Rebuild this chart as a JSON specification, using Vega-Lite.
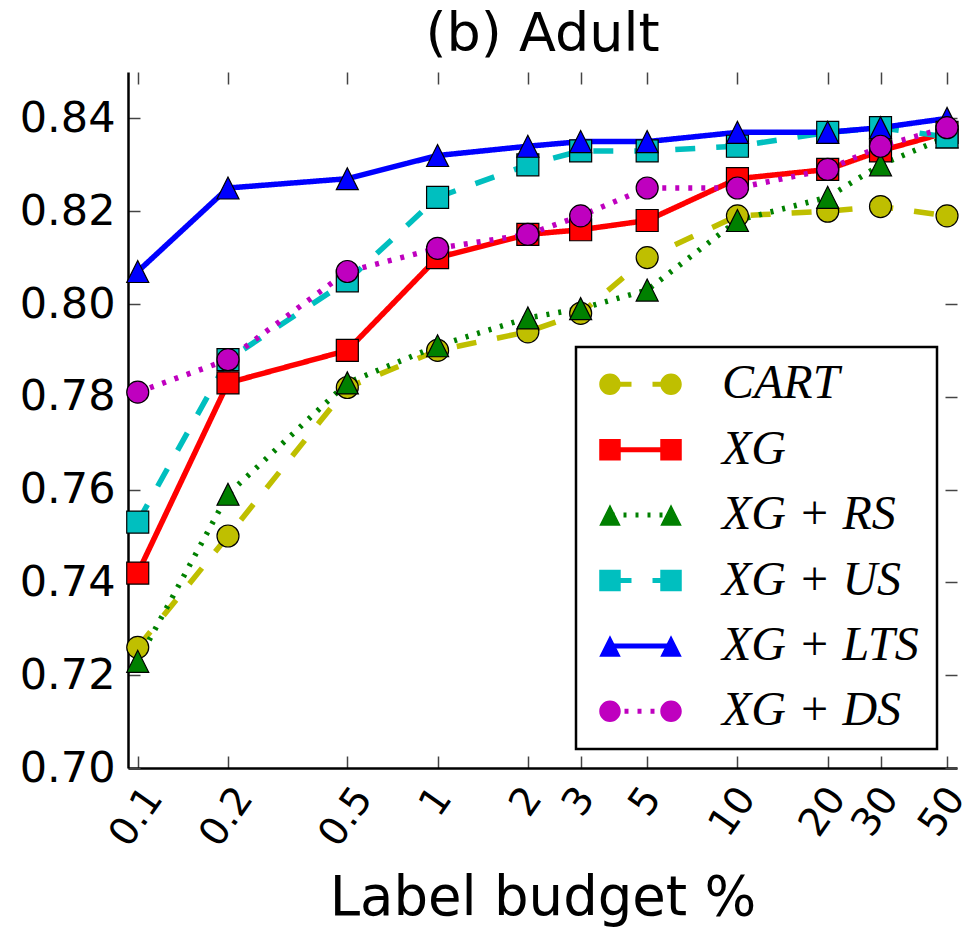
{
  "$schema": "https://vega.github.io/schema/vega-lite/v6.json",
  "width": 829,
  "height": 696,
  "autosize": {"type": "none"},
  "padding": {"left": 128, "top": 72, "right": 15, "bottom": 161},
  "background": "white",
  "title": {"text": "(b) Adult", "font": "DejaVu Sans", "fontSize": 54, "fontWeight": "normal", "color": "black", "anchor": "middle", "baseline": "alphabetic", "offset": 19, "dy": 53},
  "config": {"view": {"stroke": null}, "axis": {"grid": false}, "legend": {"strokeWidth": 2.5}},
  "data": {"values": [
    {"budget": 0.1, "acc": 0.726, "series": "CART"},
    {"budget": 0.2, "acc": 0.750, "series": "CART"},
    {"budget": 0.5, "acc": 0.782, "series": "CART"},
    {"budget": 1, "acc": 0.790, "series": "CART"},
    {"budget": 2, "acc": 0.794, "series": "CART"},
    {"budget": 3, "acc": 0.798, "series": "CART"},
    {"budget": 5, "acc": 0.810, "series": "CART"},
    {"budget": 10, "acc": 0.819, "series": "CART"},
    {"budget": 20, "acc": 0.820, "series": "CART"},
    {"budget": 30, "acc": 0.821, "series": "CART"},
    {"budget": 50, "acc": 0.819, "series": "CART"},
    {"budget": 0.1, "acc": 0.742, "series": "XG"},
    {"budget": 0.2, "acc": 0.783, "series": "XG"},
    {"budget": 0.5, "acc": 0.790, "series": "XG"},
    {"budget": 1, "acc": 0.810, "series": "XG"},
    {"budget": 2, "acc": 0.815, "series": "XG"},
    {"budget": 3, "acc": 0.816, "series": "XG"},
    {"budget": 5, "acc": 0.818, "series": "XG"},
    {"budget": 10, "acc": 0.827, "series": "XG"},
    {"budget": 20, "acc": 0.829, "series": "XG"},
    {"budget": 30, "acc": 0.833, "series": "XG"},
    {"budget": 50, "acc": 0.837, "series": "XG"},
    {"budget": 0.1, "acc": 0.723, "series": "XG+RS"},
    {"budget": 0.2, "acc": 0.759, "series": "XG+RS"},
    {"budget": 0.5, "acc": 0.783, "series": "XG+RS"},
    {"budget": 1, "acc": 0.791, "series": "XG+RS"},
    {"budget": 2, "acc": 0.797, "series": "XG+RS"},
    {"budget": 3, "acc": 0.799, "series": "XG+RS"},
    {"budget": 5, "acc": 0.803, "series": "XG+RS"},
    {"budget": 10, "acc": 0.818, "series": "XG+RS"},
    {"budget": 20, "acc": 0.823, "series": "XG+RS"},
    {"budget": 30, "acc": 0.830, "series": "XG+RS"},
    {"budget": 50, "acc": 0.836, "series": "XG+RS"},
    {"budget": 0.1, "acc": 0.753, "series": "XG+US"},
    {"budget": 0.2, "acc": 0.788, "series": "XG+US"},
    {"budget": 0.5, "acc": 0.805, "series": "XG+US"},
    {"budget": 1, "acc": 0.823, "series": "XG+US"},
    {"budget": 2, "acc": 0.830, "series": "XG+US"},
    {"budget": 3, "acc": 0.833, "series": "XG+US"},
    {"budget": 5, "acc": 0.833, "series": "XG+US"},
    {"budget": 10, "acc": 0.834, "series": "XG+US"},
    {"budget": 20, "acc": 0.837, "series": "XG+US"},
    {"budget": 30, "acc": 0.838, "series": "XG+US"},
    {"budget": 50, "acc": 0.836, "series": "XG+US"},
    {"budget": 0.1, "acc": 0.807, "series": "XG+LTS"},
    {"budget": 0.2, "acc": 0.825, "series": "XG+LTS"},
    {"budget": 0.5, "acc": 0.827, "series": "XG+LTS"},
    {"budget": 1, "acc": 0.832, "series": "XG+LTS"},
    {"budget": 2, "acc": 0.834, "series": "XG+LTS"},
    {"budget": 3, "acc": 0.835, "series": "XG+LTS"},
    {"budget": 5, "acc": 0.835, "series": "XG+LTS"},
    {"budget": 10, "acc": 0.837, "series": "XG+LTS"},
    {"budget": 20, "acc": 0.837, "series": "XG+LTS"},
    {"budget": 30, "acc": 0.838, "series": "XG+LTS"},
    {"budget": 50, "acc": 0.840, "series": "XG+LTS"},
    {"budget": 0.1, "acc": 0.781, "series": "XG+DS"},
    {"budget": 0.2, "acc": 0.788, "series": "XG+DS"},
    {"budget": 0.5, "acc": 0.807, "series": "XG+DS"},
    {"budget": 1, "acc": 0.812, "series": "XG+DS"},
    {"budget": 2, "acc": 0.815, "series": "XG+DS"},
    {"budget": 3, "acc": 0.819, "series": "XG+DS"},
    {"budget": 5, "acc": 0.825, "series": "XG+DS"},
    {"budget": 10, "acc": 0.825, "series": "XG+DS"},
    {"budget": 20, "acc": 0.829, "series": "XG+DS"},
    {"budget": 30, "acc": 0.834, "series": "XG+DS"},
    {"budget": 50, "acc": 0.838, "series": "XG+DS"}
  ]},
  "layer": [
    {
      "mark": {"type": "line", "strokeWidth": 5.5},
      "encoding": {
        "x": {"field": "budget", "type": "quantitative",
          "scale": {"type": "log", "domain": [0.0928, 53.98], "nice": false},
          "axis": {"orient": "bottom", "values": [0.1, 0.2, 0.5, 1, 2, 3, 5, 10, 20, 30, 50], "format": "~g",
            "labelFont": "DejaVu Sans", "labelFontSize": 39, "labelColor": "black", "labelAngle": -55,
            "labelAlign": "right", "labelBaseline": "middle", "labelPadding": 35,
            "labelOffset": {"condition": [{"test": "datum.value < 1", "value": 16}, {"test": "datum.value >= 10", "value": 9}], "value": 5},
            "labelFlush": false, "labelOverlap": false, "labelBound": false,
            "tickSize": -12, "tickColor": "#444", "tickWidth": 1.5,
            "domainColor": "black", "domainWidth": 2.5,
            "title": "Label budget %", "titleFont": "DejaVu Sans", "titleFontSize": 54.5, "titleFontWeight": "normal",
            "titleColor": "black", "titleBaseline": "alphabetic", "titleY": 146, "grid": false}},
        "y": {"field": "acc", "type": "quantitative",
          "scale": {"domain": [0.7, 0.85], "nice": false, "zero": false},
          "axis": {"orient": "left", "values": [0.7, 0.72, 0.74, 0.76, 0.78, 0.8, 0.82, 0.84], "format": ".2f",
            "labelFont": "DejaVu Sans", "labelFontSize": 43, "labelColor": "black", "labelPadding": 25,
            "labelFlush": false, "labelOverlap": false,
            "tickSize": -12, "tickColor": "#444", "tickWidth": 1.5,
            "domainColor": "black", "domainWidth": 2.5, "title": null, "grid": false}},
        "stroke": {"field": "series", "type": "nominal",
          "scale": {"domain": ["CART", "XG", "XG+RS", "XG+US", "XG+LTS", "XG+DS"],
            "range": ["#bfbf00", "#ff0000", "#008000", "#00bfbf", "#0000ff", "#bf00bf"]},
          "legend": {"title": null, "orient": "none", "legendX": 448, "legendY": 275, "symbolType": "stroke",
            "symbolSize": 3721, "symbolStrokeWidth": 5, "symbolOffset": 25, "padding": 8, "clipHeight": 58.6,
            "rowPadding": 6.4, "labelExpr": "''", "labelFontSize": 10, "labelOffset": 38, "strokeColor": null}},
        "strokeDash": {"field": "series", "type": "nominal",
          "scale": {"domain": ["CART", "XG", "XG+RS", "XG+US", "XG+LTS", "XG+DS"],
            "range": [[20, 21], [1, 0], [3, 9], [20, 21], [1, 0], [4, 9]]},
          "legend": {"title": null, "orient": "none", "legendX": 448, "legendY": 275, "symbolType": "stroke",
            "symbolSize": 3721, "symbolStrokeWidth": 5, "symbolOffset": 25, "padding": 8, "clipHeight": 58.6,
            "rowPadding": 6.4, "labelExpr": "''", "labelFontSize": 10, "labelOffset": 38, "strokeColor": null}}
      }
    },
    {
      "mark": {"type": "point", "filled": true, "opacity": 1, "stroke": "black", "strokeWidth": 1.2, "size": 484},
      "encoding": {
        "x": {"field": "budget", "type": "quantitative", "scale": {"type": "log", "domain": [0.0928, 53.98], "nice": false}, "axis": null},
        "y": {"field": "acc", "type": "quantitative", "scale": {"domain": [0.7, 0.85], "nice": false, "zero": false}, "axis": null},
        "fill": {"field": "series", "type": "nominal",
          "scale": {"domain": ["CART", "XG", "XG+RS", "XG+US", "XG+LTS", "XG+DS"],
            "range": ["#bfbf00", "#ff0000", "#008000", "#00bfbf", "#0000ff", "#bf00bf"]}, "legend": null},
        "shape": {"field": "series", "type": "nominal",
          "scale": {"domain": ["CART", "XG", "XG+RS", "XG+US", "XG+LTS", "XG+DS"],
            "range": ["circle", "square", "M0,-1L-1,1L1,1Z", "square", "M0,-1L-1,1L1,1Z", "circle"]}, "legend": null}
      }
    },
    {
      "transform": [{"filter": "false"}],
      "mark": {"type": "point", "filled": true, "opacity": 1, "stroke": "black", "strokeWidth": 1.2},
      "encoding": {
        "x": {"field": "budget", "type": "quantitative", "scale": {"type": "log", "domain": [0.0928, 53.98], "nice": false}, "axis": null},
        "y": {"field": "acc", "type": "quantitative", "scale": {"domain": [0.7, 0.85], "nice": false, "zero": false}, "axis": null},
        "fill": {"field": "series", "type": "nominal",
          "scale": {"domain": ["CART", "XG", "XG+RS", "XG+US", "XG+LTS", "XG+DS"],
            "range": ["#bfbf00", "#ff0000", "#008000", "#00bfbf", "#0000ff", "#bf00bf"]},
          "legend": {"title": "\u00a0", "titleOrient": "right", "titlePadding": 10, "titleFontSize": 2, "orient": "none", "legendX": 448, "legendY": 275, "symbolSize": 7225,
            "symbolStrokeColor": "black", "symbolStrokeWidth": 1.2, "symbolOffset": 13, "padding": 8, "clipHeight": 58.6,
            "rowPadding": 6.4, "labelFont": "Liberation Serif", "labelFontStyle": "italic", "labelFontSize": 48,
            "labelColor": "black", "labelOffset": 38, "labelLimit": 400, "labelExpr": "replace(datum.label, '+', ' + ')",
            "strokeColor": "black"}},
        "shape": {"field": "series", "type": "nominal",
          "scale": {"domain": ["CART", "XG", "XG+RS", "XG+US", "XG+LTS", "XG+DS"],
            "range": [
              "M-0.971,0A0.253,0.253,0,1,0,-0.465,0A0.253,0.253,0,1,0,-0.971,0ZM0.465,0A0.253,0.253,0,1,0,0.971,0A0.253,0.253,0,1,0,0.465,0Z",
              "M-0.971,-0.253H-0.465V0.253H-0.971ZM0.465,-0.253H0.971V0.253H0.465Z",
              "M-0.718,-0.253L-0.971,0.253L-0.465,0.253ZM0.718,-0.253L0.465,0.253L0.971,0.253Z",
              "M-0.971,-0.253H-0.465V0.253H-0.971ZM0.465,-0.253H0.971V0.253H0.465Z",
              "M-0.718,-0.253L-0.971,0.253L-0.465,0.253ZM0.718,-0.253L0.465,0.253L0.971,0.253Z",
              "M-0.971,0A0.253,0.253,0,1,0,-0.465,0A0.253,0.253,0,1,0,-0.971,0ZM0.465,0A0.253,0.253,0,1,0,0.971,0A0.253,0.253,0,1,0,0.465,0Z"
            ]},
          "legend": {"title": "\u00a0", "titleOrient": "right", "titlePadding": 10, "titleFontSize": 2, "orient": "none", "legendX": 448, "legendY": 275, "symbolSize": 7225,
            "symbolStrokeColor": "black", "symbolStrokeWidth": 1.2, "symbolOffset": 13, "padding": 8, "clipHeight": 58.6,
            "rowPadding": 6.4, "labelFont": "Liberation Serif", "labelFontStyle": "italic", "labelFontSize": 48,
            "labelColor": "black", "labelOffset": 38, "labelLimit": 400, "labelExpr": "replace(datum.label, '+', ' + ')",
            "strokeColor": "black"}}
      }
    },
    {
      "transform": [{"filter": "false"}],
      "mark": {"type": "point", "opacity": 0},
      "encoding": {
        "x": {"field": "budget", "type": "quantitative", "scale": {"type": "log", "domain": [0.0928, 53.98], "nice": false},
          "axis": {"orient": "top", "values": [0.1, 0.2, 0.5, 1, 2, 3, 5, 10, 20, 30, 50], "labels": false, "domain": false,
            "tickSize": -12, "tickColor": "#444", "tickWidth": 1.5, "title": null, "grid": false}},
        "y": {"field": "acc", "type": "quantitative", "scale": {"domain": [0.7, 0.85], "nice": false, "zero": false},
          "axis": {"orient": "right", "values": [0.7, 0.72, 0.74, 0.76, 0.78, 0.8, 0.82, 0.84], "labels": false, "domain": false,
            "tickSize": -12, "tickColor": "#444", "tickWidth": 1.5, "title": null, "grid": false}}
      }
    }
  ],
  "resolve": {"axis": {"x": "independent", "y": "independent"}, "scale": {"fill": "independent", "shape": "independent"}}
}
